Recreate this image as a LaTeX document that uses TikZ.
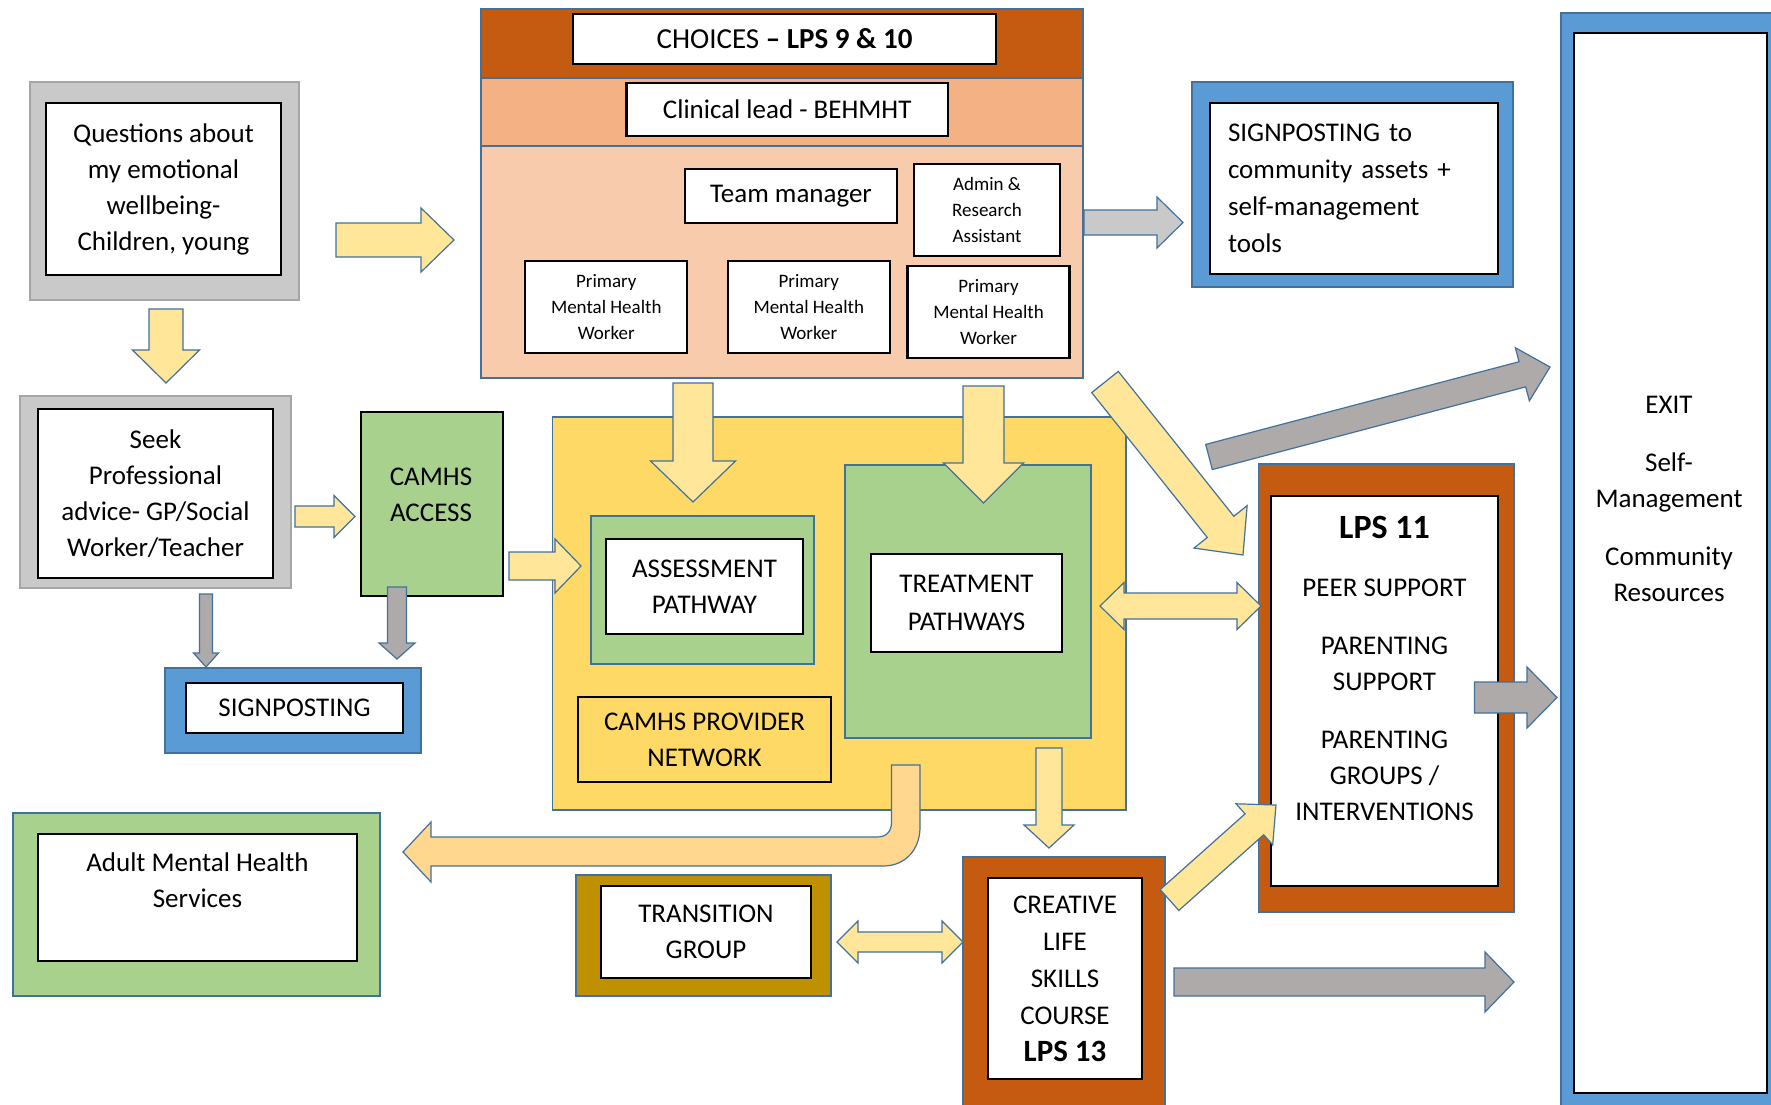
\documentclass[tikz,border=0pt]{standalone}
\usepackage{fontspec}
\setmainfont{Carlito}
\usepackage{xcolor}
\usepackage{tikz}
\usetikzlibrary{calc}

\definecolor{rust}{HTML}{C55A11}
\definecolor{peach}{HTML}{F4B183}
\definecolor{lightpeach}{HTML}{F8CBAD}
\definecolor{frameblue}{HTML}{5B9BD5}
\definecolor{edgeblue}{HTML}{41719C}
\definecolor{leaf}{HTML}{A9D18E}
\definecolor{sun}{HTML}{FFD966}
\definecolor{paleyellow}{HTML}{FFE699}
\definecolor{stone}{HTML}{AEAAAA}
\definecolor{silver}{HTML}{C9C9C9}
\definecolor{ochre}{HTML}{BF9000}
\definecolor{apricot}{HTML}{FFD78F}

% block arrow: [style]{tail}{tip}{half shaft}{half head}{head length}
\newcommand{\blockarr}[6][yarrow]{%
  \coordinate (hb) at ($(#3)!#6!(#2)$);
  \draw[#1] ($(#2)!#4!90:(#3)$) -- ($(hb)!#4!90:(#3)$) -- ($(hb)!#5!90:(#3)$) -- (#3)
    -- ($(hb)!#5!-90:(#3)$) -- ($(hb)!#4!-90:(#3)$) -- ($(#2)!#4!-90:(#3)$) -- cycle;}
% two-headed block arrow
\newcommand{\dblarr}[6][yarrow]{%
  \coordinate (hb) at ($(#3)!#6!(#2)$);
  \coordinate (hc) at ($(#2)!#6!(#3)$);
  \draw[#1] (#2) -- ($(hc)!#5!90:(#3)$) -- ($(hc)!#4!90:(#3)$) -- ($(hb)!#4!90:(#3)$)
    -- ($(hb)!#5!90:(#3)$) -- (#3) -- ($(hb)!#5!-90:(#3)$) -- ($(hb)!#4!-90:(#3)$)
    -- ($(hc)!#4!-90:(#3)$) -- ($(hc)!#5!-90:(#3)$) -- cycle;}

\begin{document}
\begin{tikzpicture}[x=0.5pt, y=-0.5pt, font=\fontsize{13.5}{18}\selectfont,
  inbox/.style={draw=black, line width=1.2pt, fill=white, align=center, inner sep=0pt},
  frame/.style={draw=edgeblue, line width=0.6pt, inner sep=0pt},
  lbl/.style={align=center, inner sep=0pt},
  smalltxt/.style={font=\fontsize{9.5}{13}\selectfont},
  yarrow/.style={draw=edgeblue, line width=0.6pt, fill=paleyellow},
  garrow/.style={draw=edgeblue, line width=0.6pt, fill=stone}]

  % Page
  \useasboundingbox (0,0) rectangle (1771,1104);
  \clip (0,0) rectangle (1771,1104);
  \fill[white] (0,0) rectangle (1771,1104);

  % Left column
  \node[frame, draw=gray!70, fill=silver, minimum width=134.5pt, minimum height=109pt] (questfr) at (164.5,191) {};
  \node[inbox, minimum width=117.5pt, minimum height=86pt] (quest) at (163.5,189) {Questions about\\my emotional\\wellbeing-\\Children, young};
  \node[frame, draw=gray!70, fill=silver, minimum width=135.5pt, minimum height=96pt] (seekfr) at (155.5,492) {};
  \node[inbox, minimum width=117.5pt, minimum height=84.5pt] (seek) at (155.5,493.5) {Seek\\Professional\\advice- GP/Social\\Worker/Teacher};
  \node[draw=black, line width=1pt, fill=leaf, minimum width=71pt, minimum height=92pt] (access) at (432,504) {};
  \node[lbl] (accesslbl) at (431,494.5) {CAMHS\\ACCESS};
  \node[frame, fill=frameblue, minimum width=128pt, minimum height=42.5pt] (signfr) at (293,710.5) {};
  \node[inbox, minimum width=108.5pt, minimum height=25pt] (sign) at (294.5,708) {SIGNPOSTING};
  \node[frame, fill=leaf, minimum width=183.5pt, minimum height=91.5pt] (adultfr) at (196.5,904.5) {};
  \node[inbox, minimum width=159.5pt, minimum height=63.5pt] (adult) at (197.5,897.5) {};
  \node[lbl] (adultlbl) at (197.5,880.5) {Adult Mental Health\\Services};

  % CHOICES team
  \node[frame, fill=lightpeach, minimum width=301pt, minimum height=184.5pt] (team) at (782,193.5) {};
  \node[frame, fill=rust, minimum width=301pt, minimum height=34.5pt] (topband) at (782,43.5) {};
  \node[frame, fill=peach, minimum width=301pt, minimum height=34pt] (midband) at (782,112) {};
  \node[inbox, minimum width=211.5pt, minimum height=25pt, font=\fontsize{14.5}{17}\selectfont] (choices) at (784.5,39) {CHOICES \textbf{– LPS 9 \& 10}};
  \node[inbox, minimum width=160.75pt, minimum height=26.5pt] (clinical) at (787.25,109.5) {Clinical lead - BEHMHT};
  \node[inbox, minimum width=106pt, minimum height=27pt] (manager) at (791,196) {Team manager};
  \node[inbox, smalltxt, minimum width=73pt, minimum height=46pt] (admin) at (987,210) {Admin \&\\Research\\Assistant};
  \foreach \x/\y/\n in {606.25/307/a, 808.75/307/b, 988.5/312/c}
    \node[inbox, smalltxt, minimum width=81pt, minimum height=46pt] (pmhw\n) at (\x,\y) {Primary\\Mental Health\\Worker};

  % Signposting to community
  \node[frame, fill=frameblue, minimum width=160.5pt, minimum height=102.5pt] (signtofr) at (1352.5,184.5) {};
  \node[inbox, align=left, text width=126pt, inner xsep=9pt, minimum height=85.5pt, font=\fontsize{13.5}{18.5}\selectfont] (signto) at (1354,188.5) {SIGNPOSTING to\\community assets +\\self-management\\tools};

  % Exit
  \node[frame, fill=frameblue, minimum width=114.5pt, minimum height=551pt] (exitfr) at (1675.5,564) {};
  \node[inbox, minimum width=96.5pt, minimum height=530pt] (exit) at (1670.5,563) {};
  \node[lbl] (exitlbl) at (1669,498.5) {EXIT\\[11pt]Self-\\Management\\[11pt]Community\\Resources};

  % Provider network
  \node[frame, fill=sun, minimum width=286.7pt, minimum height=196.5pt] (provider) at (839.3,613.5) {};
  \node[frame, fill=leaf, minimum width=111.5pt, minimum height=74pt] (assessfr) at (702.5,590) {};
  \node[inbox, minimum width=98.5pt, minimum height=47.5pt] (assess) at (704.5,586.5) {ASSESSMENT\\PATHWAY};
  \node[frame, fill=leaf, minimum width=123pt, minimum height=136.5pt] (treatfr) at (968,601.5) {};
  \node[inbox, minimum width=95.5pt, minimum height=49pt, font=\fontsize{13.5}{19}\selectfont] (treat) at (966.5,603) {TREATMENT\\PATHWAYS};
  \node[inbox, fill=sun, minimum width=126.5pt, minimum height=42.5pt] (network) at (704.5,739.5) {CAMHS PROVIDER\\NETWORK};

  % LPS 11
  \node[frame, fill=rust, minimum width=127.75pt, minimum height=224pt] (lpsfr) at (1386.25,688) {};
  \node[inbox, minimum width=113.5pt, minimum height=195pt] (lps) at (1384.5,691) {};
  \node[lbl, anchor=north] (lpslbl) at (1384.5,516) {{\fontsize{17}{20}\selectfont\bfseries LPS 11}\\[11pt]PEER SUPPORT\\[11pt]PARENTING\\SUPPORT\\[11pt]PARENTING\\GROUPS /\\INTERVENTIONS};

  % Transition and creative course
  \node[frame, fill=ochre, minimum width=127.5pt, minimum height=60.5pt] (transfr) at (703.5,935.5) {};
  \node[inbox, minimum width=105pt, minimum height=46pt] (trans) at (706,932) {TRANSITION\\GROUP};
  \node[frame, fill=rust, minimum width=101pt, minimum height=129pt] (creatfr) at (1064,986) {};
  \node[inbox, minimum width=77pt, minimum height=100.5pt, font=\fontsize{13.5}{18.5}\selectfont] (creat) at (1065,978.5) {CREATIVE\\LIFE\\SKILLS\\COURSE\\{\fontsize{15.5}{18.5}\selectfont\bfseries LPS 13}};

  % Arrow ends
  \coordinate (q1) at (166,309);    \coordinate (q2) at (166,383);
  \coordinate (q3) at (336,240);    \coordinate (q4) at (454,240);
  \coordinate (s1) at (295,516.5);  \coordinate (s2) at (355,516.5);
  \coordinate (s3) at (206,594);    \coordinate (s4) at (206,667);
  \coordinate (c1) at (397,587);    \coordinate (c2) at (397,659);
  \coordinate (c3) at (509,566);    \coordinate (c4) at (581,566);
  \coordinate (t1) at (693,383);    \coordinate (t2) at (693,502);
  \coordinate (t3) at (983.5,386);  \coordinate (t4) at (983.5,503);
  \coordinate (t5) at (1084,222.5); \coordinate (t6) at (1183,222.5);
  \coordinate (t7) at (1105,382);   \coordinate (t8) at (1243,555);
  \coordinate (g1) at (1209,457);   \coordinate (g2) at (1550,367);
  \coordinate (p1) at (1100,606);   \coordinate (p2) at (1261,606);
  \coordinate (l1) at (1474.5,697.5); \coordinate (l2) at (1557,697.5);
  \coordinate (p3) at (1049,748);   \coordinate (p4) at (1049,848);
  \coordinate (k1) at (1169.5,900); \coordinate (k2) at (1276,805);
  \coordinate (k3) at (837,942);    \coordinate (k4) at (963,942);
  \coordinate (k5) at (1174,982);   \coordinate (k6) at (1514,982);

  % Arrows
  \blockarr{q1}{q2}{8.5pt}{16.75pt}{16.5pt}
  \blockarr{q3}{q4}{8.5pt}{16pt}{16.5pt}
  \blockarr{s1}{s2}{5.25pt}{10.5pt}{10.5pt}
  \blockarr[garrow]{s3}{s4}{3.25pt}{6.25pt}{7pt}
  \blockarr[garrow]{c1}{c2}{4.75pt}{9pt}{8pt}
  \blockarr{c3}{c4}{7pt}{13.5pt}{13pt}
  \blockarr{t1}{t2}{10pt}{21.25pt}{20.5pt}
  \blockarr{t3}{t4}{10.25pt}{20pt}{20pt}
  \blockarr[garrow, fill=silver]{t5}{t6}{6.25pt}{12.75pt}{13pt}
  \blockarr{t7}{t8}{8.5pt}{17pt}{18pt}
  \blockarr[garrow]{g1}{g2}{6.5pt}{13.75pt}{14.3pt}
  \dblarr{p1}{p2}{6.5pt}{11.75pt}{12pt}
  \blockarr[garrow]{l1}{l2}{7.75pt}{15.25pt}{15pt}
  \blockarr{p3}{p4}{6.5pt}{12.5pt}{11.5pt}
  \blockarr{k1}{k2}{7pt}{13.75pt}{14.5pt}
  \dblarr{k3}{k4}{5pt}{10.5pt}{10.5pt}
  \blockarr[garrow]{k5}{k6}{7pt}{15pt}{14.5pt}

  % Bent arrow to adult services
  \draw[yarrow, fill=apricot] (891.5,765) -- (891.5,822) .. controls (891.5,832) and (886,837) .. (877,837)
    -- (431,837) -- (431,822) -- (403,852) -- (431,882) -- (431,866) -- (883,866)
    .. controls (905,866) and (920,850) .. (920,827) -- (920,765) -- cycle;
\end{tikzpicture}
\end{document}
